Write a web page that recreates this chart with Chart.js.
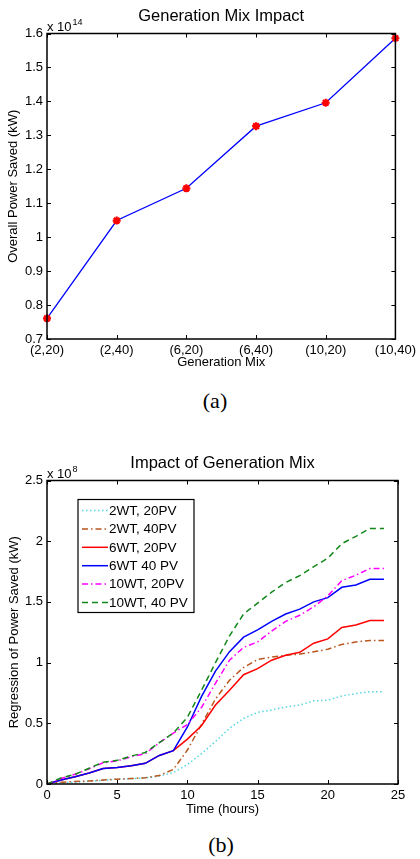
<!DOCTYPE html>
<html>
<head>
<meta charset="utf-8">
<script src="https://cdn.jsdelivr.net/npm/chart.js@4.4.1/dist/chart.umd.min.js"></script>
<style>
  html, body { margin: 0; padding: 0; background: #fff; }
  body { width: 420px; height: 859px; position: relative; overflow: hidden; }
  canvas { position: absolute; left: 0; }
  .legenda { position: absolute; font-family: 'Liberation Serif', 'Times New Roman', serif; font-size: 22px; color: #000; transform: translateX(-50%); }
</style>
</head>
<body>
<canvas id="chartMix" width="420" height="372" style="top:0"></canvas>
<div class="legenda" style="left:215px; top:388px">(a)</div>
<canvas id="chartHoras" width="420" height="379" style="top:440px"></canvas>
<div class="legenda" style="left:221px; top:832px">(b)</div>

<script>
// Dados do gráfico (a) - valores em x10^14 kW
const mixLabels = ['(2,20)', '(2,40)', '(6,20)', '(6,40)', '(10,20)', '(10,40)'];
const powerSaved = [0.761, 1.049, 1.144, 1.327, 1.396, 1.586];
const yTicksMix = [0.7, 0.8, 0.9, 1.0, 1.1, 1.2, 1.3, 1.4, 1.5, 1.6];

// Dados do gráfico (b) - valores em x10^8 kW, por hora
const hours = [0, 1, 2, 3, 4, 5, 6, 7, 8, 9, 10, 11, 12, 13, 14, 15, 16, 17, 18, 19, 20, 21, 22, 23, 24];
const seriesLabels = ['2WT, 20PV', '2WT, 40PV', '6WT, 20PV', '6WT 40 PV', '10WT, 20PV', '10WT, 40 PV'];
const wt2pv20 = [0, 0.01, 0.015, 0.022, 0.03, 0.04, 0.045, 0.05, 0.065, 0.095, 0.16, 0.25, 0.35, 0.46, 0.54, 0.59, 0.61, 0.635, 0.65, 0.685, 0.69, 0.725, 0.745, 0.76, 0.76];
const wt2pv40 = [0, 0.015, 0.02, 0.025, 0.033, 0.04, 0.045, 0.052, 0.07, 0.12, 0.28, 0.49, 0.70, 0.855, 0.96, 1.025, 1.045, 1.06, 1.07, 1.09, 1.11, 1.15, 1.17, 1.183, 1.183];
const wt6pv20 = [0, 0.033, 0.06, 0.09, 0.128, 0.135, 0.15, 0.17, 0.235, 0.275, 0.37, 0.48, 0.65, 0.773, 0.90, 0.95, 1.02, 1.06, 1.085, 1.16, 1.195, 1.29, 1.31, 1.347, 1.347];
const wt6pv40 = [0, 0.033, 0.06, 0.09, 0.128, 0.135, 0.15, 0.17, 0.235, 0.275, 0.47, 0.72, 0.93, 1.09, 1.21, 1.27, 1.34, 1.40, 1.44, 1.50, 1.535, 1.62, 1.64, 1.687, 1.687];
const wt10pv20 = [0, 0.045, 0.08, 0.125, 0.175, 0.19, 0.225, 0.25, 0.34, 0.42, 0.49, 0.63, 0.83, 1.02, 1.125, 1.17, 1.26, 1.34, 1.39, 1.46, 1.55, 1.675, 1.72, 1.775, 1.775];
const wt10pv40 = [0, 0.05, 0.08, 0.13, 0.18, 0.195, 0.23, 0.26, 0.34, 0.42, 0.55, 0.77, 1.0, 1.22, 1.40, 1.49, 1.58, 1.66, 1.716, 1.79, 1.86, 1.98, 2.04, 2.105, 2.105];
const xTicksHoras = [0, 5, 10, 15, 20, 25];
const yTicksHoras = [0, 0.5, 1.0, 1.5, 2.0, 2.5];

const FONTE = "'Liberation Sans', Arial, Helvetica, sans-serif";
Chart.defaults.font.family = FONTE;
Chart.defaults.color = '#000';

const fmt = v => String(Number(v.toFixed(2)));

// Caixa estilo MATLAB: moldura, ticks para dentro, título e expoente
const matlabBox = {
    id: 'matlabBox',
    afterDraw(chart, args, opts) {
        const { ctx, chartArea: a } = chart;
        const xs = chart.scales.x, ys = chart.scales.y;
        const tl = 4;
        ctx.save();
        ctx.strokeStyle = '#000';
        ctx.lineWidth = 1;
        ctx.setLineDash([]);
        ctx.beginPath();
        xs.ticks.forEach((t, i) => {
            const px = Math.round(xs.getPixelForTick(i)) + 0.5;
            ctx.moveTo(px, a.bottom); ctx.lineTo(px, a.bottom - tl);
            ctx.moveTo(px, a.top); ctx.lineTo(px, a.top + tl);
        });
        ys.ticks.forEach((t, i) => {
            const py = Math.round(ys.getPixelForTick(i)) + 0.5;
            ctx.moveTo(a.left, py); ctx.lineTo(a.left + tl, py);
            ctx.moveTo(a.right, py); ctx.lineTo(a.right - tl, py);
        });
        ctx.stroke();
        ctx.lineWidth = 1.5;
        ctx.strokeRect(a.left, a.top, a.right - a.left, a.bottom - a.top);

        ctx.fillStyle = '#000';
        ctx.font = '16.5px ' + FONTE;
        ctx.textAlign = 'center';
        ctx.textBaseline = 'middle';
        ctx.fillText(opts.titulo, (a.left + a.right) / 2, a.top - 17.5);

        ctx.textAlign = 'left';
        ctx.textBaseline = 'alphabetic';
        ctx.font = '13px ' + FONTE;
        ctx.fillText('x 10', a.left, a.top - 3);
        const w = ctx.measureText('x 10').width;
        ctx.font = '9px ' + FONTE;
        ctx.fillText(opts.expoente, a.left + w + 1, a.top - 9);
        ctx.restore();
    }
};

// Legenda dentro da área do gráfico (b)
const legendaBox = {
    id: 'legendaBox',
    afterDraw(chart, args, opts) {
        if (!opts.show) return;
        const { ctx, chartArea: a } = chart;
        const left = a.left + 31, top = a.top + 19, w = 116, h = 113;
        ctx.save();
        ctx.fillStyle = '#fff';
        ctx.fillRect(left, top, w, h);
        ctx.strokeStyle = '#000';
        ctx.lineWidth = 1.2;
        ctx.setLineDash([]);
        ctx.strokeRect(left, top, w, h);
        ctx.font = '13.5px ' + FONTE;
        ctx.textBaseline = 'middle';
        ctx.textAlign = 'left';
        chart.data.datasets.forEach((ds, i) => {
            const y = top + 11 + i * 18.4;
            ctx.strokeStyle = ds.borderColor;
            ctx.lineWidth = ds.borderWidth;
            ctx.setLineDash(ds.borderDash || []);
            ctx.beginPath();
            ctx.moveTo(left + 4, y);
            ctx.lineTo(left + 30, y);
            ctx.stroke();
            ctx.setLineDash([]);
            ctx.fillStyle = '#000';
            ctx.fillText(ds.label, left + 31, y + 0.5);
        });
        ctx.restore();
    }
};

function eixoY(min, max, valores, titulo, padTitulo) {
    return {
        type: 'linear',
        min: min,
        max: max,
        afterBuildTicks: s => { s.ticks = valores.map(v => ({ value: v })); },
        afterFit: s => { s.width = 47; },
        grid: { display: false, drawTicks: false },
        border: { display: false },
        ticks: { font: { size: 13 }, padding: 4, callback: v => fmt(v) },
        title: { display: true, text: titulo, font: { size: 13 }, padding: { top: padTitulo, bottom: 0 } }
    };
}

// Gráfico (a): impacto do mix de geração
function renderChartMix() {
    const ctx = document.getElementById('chartMix').getContext('2d');
    new Chart(ctx, {
        type: 'line',
        data: {
            labels: mixLabels,
            datasets: [{
                data: powerSaved,
                borderColor: '#0000ff',
                borderWidth: 1.3,
                tension: 0,
                clip: false,
                pointStyle: 'star',
                pointRadius: 4,
                pointBorderColor: '#ff0000',
                pointBackgroundColor: '#ff0000',
                pointBorderWidth: 2.2
            }]
        },
        options: {
            responsive: false,
            animation: false,
            layout: { padding: { top: 33.5, right: 22, bottom: 0, left: 0 } },
            plugins: {
                legend: { display: false },
                tooltip: { enabled: false },
                matlabBox: { titulo: 'Generation Mix Impact', expoente: '14' }
            },
            scales: {
                x: {
                    type: 'category',
                    offset: false,
                    afterFit: s => { s.height = 33; },
                    grid: { display: false, drawTicks: false },
                    border: { display: false },
                    ticks: { font: { size: 13 }, padding: 4, maxRotation: 0, autoSkip: false },
                    title: { display: true, text: 'Generation Mix', font: { size: 13 }, padding: { top: 0, bottom: 1.7 } }
                },
                y: eixoY(0.7, 1.6, yTicksMix, 'Overall Power Saved (kW)', 6)
            }
        },
        plugins: [matlabBox]
    });
}

// Gráfico (b): regressão da potência economizada ao longo do dia
function renderChartHoras() {
    const ctx = document.getElementById('chartHoras').getContext('2d');
    const series = [wt2pv20, wt2pv40, wt6pv20, wt6pv40, wt10pv20, wt10pv40];
    const cores = ['#55d6e2', '#b8561e', '#ff0000', '#0000ff', '#ff00ff', '#12881a'];
    const tracos = [[1.5, 2.5], [6, 3, 1.5, 3], [], [], [6, 3, 1.5, 3], [6, 4]];

    const datasets = series.map((s, i) => ({
        label: seriesLabels[i],
        data: s.map((v, j) => ({ x: hours[j], y: v })),
        borderColor: cores[i],
        borderWidth: 1.5,
        borderDash: tracos[i],
        pointRadius: 0,
        tension: 0,
        order: series.length - i
    }));

    new Chart(ctx, {
        type: 'line',
        data: { datasets: datasets },
        options: {
            responsive: false,
            animation: false,
            layout: { padding: { top: 40.5, right: 22, bottom: 0, left: 0 } },
            plugins: {
                legend: { display: false },
                tooltip: { enabled: false },
                matlabBox: { titulo: 'Impact of Generation Mix', expoente: '8' },
                legendaBox: { show: true }
            },
            scales: {
                x: {
                    type: 'linear',
                    min: 0,
                    max: 25,
                    afterBuildTicks: s => { s.ticks = xTicksHoras.map(v => ({ value: v })); },
                    afterFit: s => { s.height = 35; },
                    grid: { display: false, drawTicks: false },
                    border: { display: false },
                    ticks: { font: { size: 13 }, padding: 4, maxRotation: 0, autoSkip: false, callback: v => fmt(v) },
                    title: { display: true, text: 'Time (hours)', font: { size: 13 }, padding: { top: 0, bottom: 2.2 } }
                },
                y: eixoY(0, 2.5, yTicksHoras, 'Regression of Power Saved (kW)', 7)
            }
        },
        plugins: [matlabBox, legendaBox]
    });
}

renderChartMix();
renderChartHoras();
</script>
</body>
</html>
